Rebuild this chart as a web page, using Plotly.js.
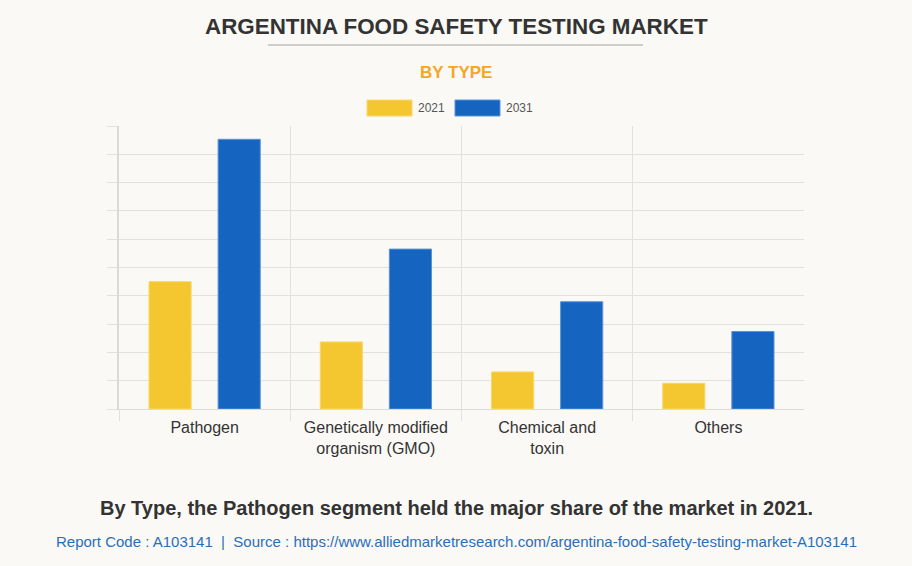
<!DOCTYPE html>
<html><head><meta charset="utf-8">
<script src="https://cdn.plot.ly/plotly-3.0.1.min.js"></script>
<style>
html,body{margin:0;padding:0;background:#faf9f5;}
#chart{width:912px;height:566px;box-sizing:border-box;}
</style></head>
<body><div id="chart"></div>
<script>
const categories = ["Pathogen", "Genetically modified<br>organism (GMO)", "Chemical and<br>toxin", "Others"];
const series2021 = [4.5, 2.37, 1.31, 0.91];
const series2031 = [9.53, 5.65, 3.79, 2.74];
const seriesNames = ["2021", "2031"];
const colors = ["#f4c62f", "#1565c0"];
const boundaries = [-0.5, 0.5, 1.5, 2.5];

const traces = [
  {type:"bar", x:categories, y:series2021, name:seriesNames[0], marker:{color:colors[0], line:{color:"#f8d868", width:1}}, showlegend:false, hoverinfo:"none"},
  {type:"bar", x:categories, y:series2031, name:seriesNames[1], marker:{color:colors[1], line:{color:"#5a93d6", width:1}}, showlegend:false, hoverinfo:"none"},
  {type:"scatter", x:[-0.5, 3.5], y:[0, 0], xaxis:"x2", mode:"none", showlegend:false, hoverinfo:"none"}
];

const grid = "#e3e1dd";
const layout = {
  width:912, height:566,
  paper_bgcolor:"#faf9f5", plot_bgcolor:"#faf9f5",
  margin:{l:119, r:108, t:126, b:157},
  barmode:"group", bargap:0.193, bargroupgap:0.39,
  font:{family:"Liberation Sans, Arial, sans-serif", color:"#333"},
  xaxis:{type:"category", showgrid:false, ticks:"", showline:true, linecolor:"#dcdad6", linewidth:1,
         tickfont:{size:16, color:"#333"}, ticklabelstandoff:4, fixedrange:true},
  xaxis2:{overlaying:"x", side:"bottom", range:[-0.5,3.5], tickvals:boundaries, showticklabels:false,
          showgrid:true, gridcolor:grid, gridwidth:1, ticks:"outside", ticklen:11, tickcolor:grid, zeroline:false, fixedrange:true},
  yaxis:{range:[0,10], dtick:1, showticklabels:false, showgrid:true, gridcolor:grid, gridwidth:1,
         ticks:"outside", ticklen:10, tickcolor:grid, showline:true, linecolor:"#dcdad6", linewidth:2, zeroline:false, fixedrange:true},
  shapes:[
    {type:"line", xref:"paper", yref:"paper", x0:(268-119)/685, x1:(643-119)/685, y0:(409-45)/283, y1:(409-45)/283, line:{color:"#cfcdca", width:2}},
    {type:"rect", xref:"paper", yref:"paper", x0:(367-119)/685, x1:(412-119)/685, y0:(409-100)/283, y1:(409-116)/283, fillcolor:colors[0], line:{width:1, color:"#f8d868"}},
    {type:"rect", xref:"paper", yref:"paper", x0:(455-119)/685, x1:(500-119)/685, y0:(409-100)/283, y1:(409-116)/283, fillcolor:colors[1], line:{width:1, color:"#5a93d6"}}
  ],
  annotations:[
    {text:"<b>ARGENTINA FOOD SAFETY TESTING MARKET</b>", xref:"paper", yref:"paper", x:(456-119)/685, y:(409-27)/283, showarrow:false, font:{size:22.4, color:"#333"}, xanchor:"center", yanchor:"middle"},
    {text:"<b>BY TYPE</b>", xref:"paper", yref:"paper", x:(456-119)/685, y:(409-72)/283, showarrow:false, font:{size:17, color:"#f5a623"}, xanchor:"center", yanchor:"middle"},
    {text:seriesNames[0], xref:"paper", yref:"paper", x:(416-119)/685, y:(409-108)/283, showarrow:false, font:{size:12, color:"#555"}, xanchor:"left", yanchor:"middle"},
    {text:seriesNames[1], xref:"paper", yref:"paper", x:(504-119)/685, y:(409-108)/283, showarrow:false, font:{size:12, color:"#555"}, xanchor:"left", yanchor:"middle"},
    {text:"<b>By Type, the Pathogen segment held the major share of the market in 2021.</b>", xref:"paper", yref:"paper", x:(456-119)/685, y:(409-508)/283, showarrow:false, font:{size:20, color:"#333"}, xanchor:"center", yanchor:"middle"},
    {text:"Report Code : A103141  |  Source : https://www.alliedmarketresearch.com/argentina-food-safety-testing-market-A103141", xref:"paper", yref:"paper", x:(456-119)/685, y:(409-541)/283, showarrow:false, font:{size:15, color:"#2a6ebb"}, xanchor:"center", yanchor:"middle"}
  ]
};
Plotly.newPlot("chart", traces, layout, {displayModeBar:false, staticPlot:true});
</script>
</body></html>
